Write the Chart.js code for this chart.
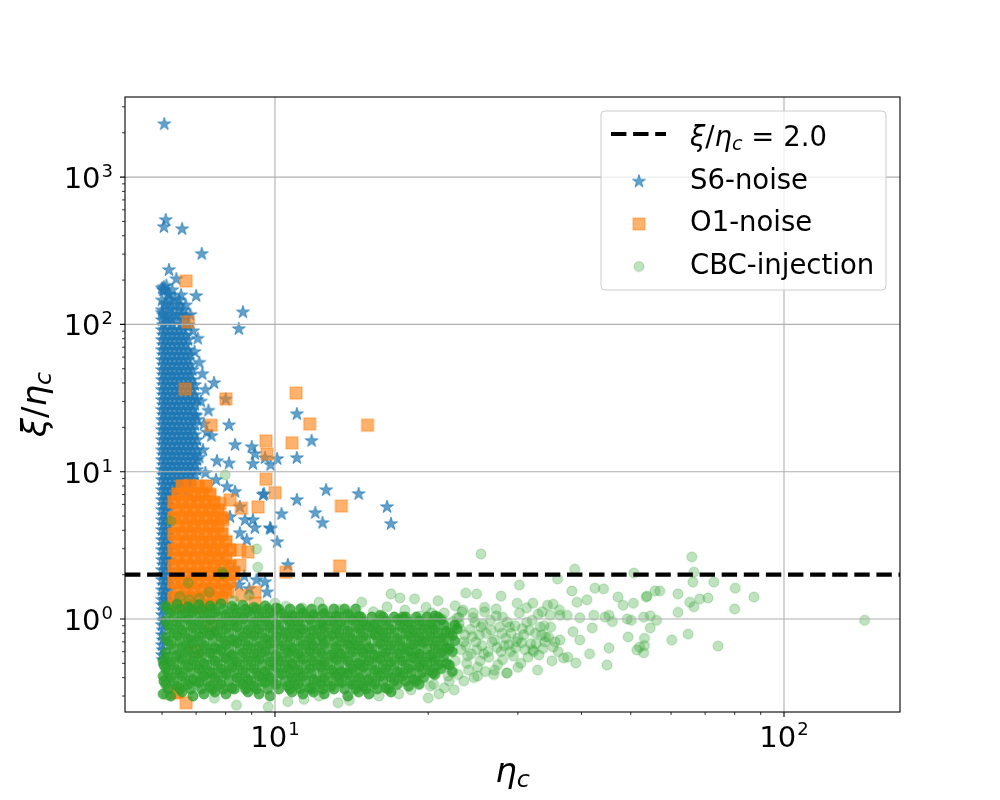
<!DOCTYPE html>
<html>
<head>
<meta charset="utf-8">
<title>xi/eta_c vs eta_c</title>
<script src="https://cdn.jsdelivr.net/npm/chart.js@4.4.1/dist/chart.umd.min.js"></script>
<style>
    body { margin: 0; background: #fff; }
    #chart { display: block; }
</style>
</head>
<body>
<canvas id="chart" width="1000" height="800"></canvas>
<script>
// Axis ranges and ticks (log-log)
const xLimits = [5.074, 169.0];
const yLimits = [0.2337, 3498];
const xMajorTicks = [10, 100];
const xMinorTicks = [6, 7, 8, 9, 20, 30, 40, 50, 60, 70, 80, 90];
const yMajorTicks = [1, 10, 100, 1000];
const yMinorTicks = [0.3, 0.4, 0.5, 0.6, 0.7, 0.8, 0.9, 2, 3, 4, 5, 6, 7, 8, 9,
    20, 30, 40, 50, 60, 70, 80, 90, 200, 300, 400, 500, 600, 700, 800, 900, 2000, 3000];
const threshold = 2.0;

// S6-noise: the packed column near eta_c ~ 6, one row per xi/eta_c level: [y, [x...]]
const s6ColumnRows = [
    [171, [6.03, 6.28]], [158, [6.16, 6.54]], [146, [6.00, 6.22, 6.48]], [135, [6.09, 6.35, 6.68]],
    [125, [6.00, 6.22, 6.48]], [116, [6.03, 6.28, 6.54, 6.82]], [107, [6.00, 6.16, 6.41, 6.61]],
    [99.1, [6.03, 6.28, 6.54, 6.75]],
    [91.6, [6.00, 6.09, 6.22, 6.35, 6.48, 6.61]],
    [84.7, [6.03, 6.16, 6.28, 6.41, 6.54, 6.68]],
    [78.4, [6.00, 6.09, 6.22, 6.35, 6.48, 6.61, 6.75]],
    [72.5, [6.03, 6.16, 6.28, 6.41, 6.54, 6.68]],
    [67.0, [6.00, 6.09, 6.22, 6.35, 6.48, 6.61, 6.75]],
    [62.0, [6.03, 6.16, 6.28, 6.41, 6.54, 6.68, 6.82]],
    [57.3, [6.00, 6.09, 6.22, 6.35, 6.48, 6.61, 6.75]],
    [53.0, [6.03, 6.16, 6.28, 6.41, 6.54, 6.68, 6.82]],
    [49.0, [6.00, 6.09, 6.22, 6.35, 6.48, 6.61, 6.75, 6.88]],
    [45.3, [6.03, 6.16, 6.28, 6.41, 6.54, 6.68, 6.82]],
    [42.0, [6.00, 6.09, 6.22, 6.35, 6.48, 6.61, 6.75, 6.88]],
    [38.8, [6.03, 6.16, 6.28, 6.41, 6.54, 6.68, 6.82, 6.96]],
    [35.9, [6.00, 6.09, 6.22, 6.35, 6.48, 6.61, 6.75, 6.88]],
    [33.2, [6.03, 6.16, 6.28, 6.41, 6.54, 6.68, 6.82, 6.96]],
    [30.7, [6.00, 6.09, 6.22, 6.35, 6.48, 6.61, 6.75, 6.88, 7.03]],
    [28.4, [6.03, 6.16, 6.28, 6.41, 6.54, 6.68, 6.82, 6.96]],
    [26.3, [6.00, 6.09, 6.22, 6.35, 6.48, 6.61, 6.75, 6.88]],
    [24.3, [6.03, 6.16, 6.28, 6.41, 6.54, 6.68, 6.82, 6.96]],
    [22.5, [6.00, 6.09, 6.22, 6.35, 6.48, 6.61, 6.75, 6.88, 7.03]],
    [20.7, [6.03, 6.16, 6.28, 6.41, 6.54, 6.68, 6.82, 6.96]],
    [19.2, [6.00, 6.09, 6.22, 6.35, 6.48, 6.61, 6.75, 6.88]],
    [17.8, [6.03, 6.16, 6.28, 6.41, 6.54, 6.68, 6.82, 6.96]],
    [16.4, [6.00, 6.09, 6.22, 6.35, 6.48, 6.61, 6.75, 6.88, 7.03]],
    [15.2, [6.03, 6.16, 6.28, 6.41, 6.54, 6.68, 6.82, 6.96]],
    [14.0, [6.00, 6.09, 6.22, 6.35, 6.48, 6.61, 6.75, 6.88, 7.03]],
    [13.0, [6.03, 6.16, 6.28, 6.41, 6.54, 6.68, 6.82, 6.96]],
    [12.0, [6.00, 6.09, 6.22, 6.35, 6.48, 6.61, 6.75, 6.88, 7.03]],
    [11.1, [6.03, 6.16, 6.28, 6.41, 6.54, 6.68, 6.82, 6.96]],
    [10.3, [6.00, 6.09, 6.22, 6.35, 6.48, 6.61, 6.75, 6.88, 7.03]],
    [9.5, [6.03, 6.16, 6.28, 6.41, 6.54, 6.68, 6.82, 6.96]],
    [8.8, [6.00, 6.09, 6.22, 6.35, 6.48, 6.61, 6.75, 6.88]],
    [8.12, [6.03, 6.16, 6.28, 6.41, 6.54, 6.68, 6.82]],
    [7.5, [6.00, 6.09, 6.22, 6.35, 6.48, 6.61, 6.75]],
    [6.95, [6.03, 6.16, 6.28]], [6.43, [6.00, 6.09, 6.22]], [5.94, [6.03, 6.16]], [5.50, [6.00, 6.09, 6.22]],
    [5.08, [6.03, 6.16]], [4.70, [6.00, 6.09, 6.22]], [4.35, [6.03, 6.16]], [4.02, [6.00, 6.09, 6.22]],
    [3.72, [6.03, 6.16]], [3.44, [6.00, 6.09, 6.22]], [3.18, [6.03, 6.16]], [2.94, [6.00, 6.09, 6.22]],
    [2.72, [6.03, 6.16]], [2.52, [6.00, 6.09, 6.22]], [2.33, [6.03, 6.16]], [2.15, [6.00, 6.09, 6.22]],
    [1.99, [6.03, 6.16]], [1.84, [6.00, 6.09, 6.22]], [1.70, [6.03, 6.16]], [1.57, [6.00, 6.09, 6.22]],
    [1.46, [6.03, 6.16]], [1.35, [6.00, 6.09, 6.22]], [1.245, [6.00, 6.09]], [1.15, [6.02]],
    [1.065, [6.00]], [0.98, [6.02]], [0.91, [6.00]], [0.84, [6.02]], [0.779, [6.00]], [0.72, [6.02]],
    [0.666, [6.00]], [0.616, [6.02]], [0.57, [6.00]], [0.527, [6.02]]
];

// S6-noise: loose triggers [eta_c, xi/eta_c]
const s6Noise = [
    [6.06,2290],[6.10,511],[6.05,458],[6.57,444],[7.18,301],[6.19,234],[6.40,203],[6.05,179],[6.12,183],[6.00,176],
    [7.00,156],[8.65,121],[6.70,114],[6.10,112],[6.25,108],[8.49,93],
    [6.05,170],[6.20,160],[6.35,150],[6.10,140],[6.50,135],[6.25,128],[6.00,120],[6.60,125],[6.40,115],[6.15,102],[6.75,98],
    [7.20,46],[7.59,40],[8.00,31],[8.12,20.7],[11.04,24.6],[11.8,16.2],[8.35,15.2],[9.00,14.7],[9.13,13.2],
    [10.1,12.2],[7.69,11.8],[8.12,11.4],[9.05,11.3],[9.80,11.1],[11.04,12.4],[9.52,7.06],[11.04,6.43],
    [12.0,5.25],[10.3,5.16],[9.80,4.08],[10.1,3.33],[8.73,4.70],[12.6,7.5],[14.6,7.06],[16.6,5.76],
    [12.4,4.49],[16.9,4.42],[10.6,2.33],
    [7.22,14.0],[7.66,8.8],[8.05,7.9],[8.35,7.3],[8.53,5.76],[8.16,4.93],[9.05,4.70],[9.13,4.15],
    [9.78,4.15],[9.47,6.95],[8.53,3.83],[8.80,3.44],[9.56,1.78],[9.65,1.52],[9.20,1.84],[9.56,12.4],
    [7.10,55],[7.30,36],[7.40,26],[7.25,21],[7.50,17.5],[7.00,24],[6.95,65],[7.05,80],[6.90,90],
    [7.15,30],[7.35,18.5],[7.10,12.5],[7.30,9.8],
    [8.30,2.2],[8.70,1.95],[8.50,1.7],[8.90,1.6]
];

// O1-noise: packed block
const o1Block = [
    [6.57,8.0],[6.81,8.05],[7.06,7.95],[7.32,8.0],
    [6.44,7.06],[6.69,7.1],[6.93,7.0],[7.19,7.08],[7.45,7.02],
    [6.33,6.23],[6.57,6.2],[6.81,6.26],[7.06,6.21],[7.32,6.25],[7.59,6.2],
    [6.44,5.5],[6.69,5.52],[6.93,5.47],[7.19,5.51],[7.45,5.49],[7.73,5.5],
    [6.33,4.85],[6.57,4.87],[6.81,4.83],[7.06,4.86],[7.32,4.84],[7.59,4.85],[7.87,4.88],
    [6.44,4.28],[6.69,4.3],[6.93,4.26],[7.19,4.29],[7.45,4.27],[7.73,4.28],
    [6.33,3.78],[6.57,3.8],[6.81,3.77],[7.06,3.79],[7.32,3.76],[7.59,3.78],[7.87,3.8],
    [6.44,3.33],[6.69,3.35],[6.93,3.32],[7.19,3.34],[7.45,3.31],[7.73,3.33],[8.01,3.35],
    [6.33,2.94],[6.57,2.95],[6.81,2.93],[7.06,2.96],[7.32,2.94],[7.59,2.92],[7.87,2.95],[8.16,2.94],
    [6.44,2.6],[6.69,2.61],[6.93,2.59],[7.19,2.6],[7.45,2.62],[7.73,2.59],[8.01,2.6],
    [6.33,2.29],[6.57,2.3],[6.81,2.28],[7.06,2.29],[7.32,2.31],[7.59,2.28],[7.87,2.3],[8.16,2.29],
    [6.44,2.02],[6.69,2.03],[6.93,2.01],[7.19,2.02],[7.45,2.04],[7.73,2.01],[8.01,2.02],[8.30,2.03],
    [6.33,1.78],[6.57,1.79],[6.81,1.77],[7.06,1.78],[7.32,1.8],[7.59,1.77],[7.87,1.78],[8.16,1.79],
    [6.44,1.57],[6.69,1.58],[6.93,1.56],[7.19,1.57],[7.45,1.59],[7.73,1.56],[8.01,1.57],
    [6.33,1.39],[6.57,1.4],[6.81,1.38],[7.06,1.39],[7.32,1.41],[7.59,1.38],[7.87,1.39],
    [6.44,1.23],[6.69,1.24],[6.93,1.22],[7.19,1.23],[7.45,1.24]
];

// O1-noise: loose triggers
const o1Noise = [
    [6.69,197],[6.75,104],[6.66,36.4],[8.01,31.2],[11.0,34.2],[7.49,20.7],[11.7,21.1],[15.2,20.7],
    [9.60,16.2],[10.8,15.7],[9.64,13.2],[9.60,8.9],[10.0,7.2],[9.26,5.76],[13.5,5.85],[13.4,2.29],[10.5,2.08],
    [7.80,6.1],[8.16,6.43],[8.59,5.65],[7.90,4.7],[8.53,2.94],[8.85,2.85],[8.53,2.32],[9.13,1.52],
    [9.13,1.28],[8.09,1.52],[8.60,1.45],
    [6.36,0.315],[6.69,0.27],[6.44,0.32],[7.00,0.6],[7.50,0.9]
];

// CBC-injection: the dense core of the cloud
const cbcDense = [
    [6.10,1.22],[6.42,1.26],[6.75,1.21],[7.09,1.25],[7.45,1.23],[7.83,1.27],[8.23,1.22],[8.65,1.24],[9.09,1.2],[9.56,1.23],[10.05,1.19],
    [6.24,1.10],[6.57,1.08],[6.90,1.12],[7.25,1.09],[7.62,1.11],[8.01,1.07],[8.42,1.10],[8.85,1.12],[9.30,1.08],[9.78,1.10],
    [10.3,1.09],[10.8,1.06],[11.35,1.10],[11.9,1.07],[12.5,1.09],[13.2,1.05],[13.9,1.08],[14.6,1.04],[16.1,1.06],[17.8,1.03],[20.6,1.05],
    [6.10,0.97],[6.42,0.95],[6.75,0.99],[7.09,0.96],[7.45,0.98],[7.83,0.94],[8.23,0.97],[8.65,1.0],[9.09,0.95],[9.56,0.97],
    [10.05,0.93],[10.6,0.98],[11.1,0.96],[11.7,0.99],[12.3,0.94],[12.9,0.97],[13.5,0.95],[14.2,0.98],[14.9,0.96],[15.7,0.93],
    [16.5,0.97],[17.4,0.99],[18.3,0.95],[19.2,0.97],[20.2,0.94],[21.2,0.98],
    [6.24,0.86],[6.57,0.84],[6.90,0.87],[7.25,0.85],[7.62,0.83],[8.01,0.86],[8.42,0.88],[8.85,0.84],[9.30,0.85],[9.78,0.87],
    [10.3,0.83],[10.8,0.86],[11.35,0.85],[11.9,0.84],[12.5,0.87],[13.2,0.85],[13.9,0.83],[14.6,0.86],[15.3,0.88],[16.1,0.84],
    [16.9,0.85],[17.8,0.87],[18.7,0.84],[19.6,0.86],[20.6,0.85],[21.7,0.83],[22.8,0.86],
    [6.10,0.75],[6.42,0.77],[6.75,0.74],[7.09,0.76],[7.45,0.78],[7.83,0.75],[8.23,0.73],[8.65,0.76],[9.09,0.77],[9.56,0.74],
    [10.05,0.76],[10.6,0.75],[11.1,0.78],[11.7,0.74],[12.3,0.76],[12.9,0.77],[13.5,0.75],[14.2,0.73],[14.9,0.76],[15.7,0.78],
    [16.5,0.75],[17.4,0.74],[18.3,0.77],[19.2,0.75],[20.2,0.76],[21.2,0.74],[22.3,0.77],
    [6.24,0.67],[6.57,0.65],[6.90,0.68],[7.25,0.66],[7.62,0.64],[8.01,0.67],[8.42,0.69],[8.85,0.66],[9.30,0.65],[9.78,0.68],
    [10.3,0.66],[10.8,0.64],[11.35,0.67],[11.9,0.66],[12.5,0.68],[13.2,0.65],[13.9,0.67],[14.6,0.66],[15.3,0.64],[16.1,0.68],
    [16.9,0.66],[17.8,0.65],[18.7,0.67],[19.6,0.69],[20.6,0.66],[21.7,0.64],
    [6.10,0.59],[6.42,0.57],[6.75,0.60],[7.09,0.58],[7.45,0.59],[7.83,0.61],[8.23,0.57],[8.65,0.59],[9.09,0.58],[9.56,0.60],
    [10.05,0.57],[10.6,0.59],[11.1,0.58],[11.7,0.60],[12.3,0.59],[12.9,0.57],[13.5,0.58],[14.2,0.60],[14.9,0.59],[15.7,0.57],
    [16.5,0.59],[17.4,0.58],[18.3,0.60],[19.2,0.58],[20.2,0.57],[21.2,0.59],[22.3,0.60],
    [6.03,0.52],[6.24,0.51],[6.57,0.53],[6.90,0.52],[7.25,0.50],[7.62,0.52],[8.01,0.54],[8.42,0.51],[8.85,0.52],[9.30,0.53],[9.78,0.51],
    [10.3,0.52],[10.8,0.50],[11.35,0.53],[11.9,0.52],[12.5,0.51],[13.2,0.53],[13.9,0.52],[14.6,0.50],[15.3,0.52],[16.1,0.53],
    [16.9,0.51],[17.8,0.52],[18.7,0.54],[19.6,0.51],[20.6,0.52],[21.7,0.50],
    [6.10,0.46],[6.42,0.45],[6.75,0.47],[7.09,0.46],[7.45,0.44],[7.83,0.46],[8.23,0.47],[8.65,0.45],[9.09,0.46],[9.56,0.44],
    [10.05,0.47],[10.6,0.46],[11.1,0.45],[11.7,0.46],[12.3,0.47],[12.9,0.45],[13.5,0.44],[14.2,0.46],[14.9,0.47],[15.7,0.45],
    [16.5,0.46],[17.4,0.44],[18.3,0.46],[19.2,0.47],[20.2,0.45],[21.2,0.46],[22.3,0.44],
    [6.03,0.41],[6.24,0.40],[6.57,0.41],[6.90,0.39],[7.25,0.41],[7.62,0.40],[8.01,0.42],[8.42,0.40],[8.85,0.39],[9.30,0.41],[9.78,0.40],
    [10.3,0.42],[10.8,0.40],[11.35,0.41],[11.9,0.39],[12.5,0.40],[13.2,0.41],[13.9,0.42],[14.6,0.40],[15.3,0.39],[16.1,0.41],
    [16.9,0.40],[17.8,0.41],[18.7,0.39],[19.6,0.40],[20.6,0.42],
    [6.10,0.36],[6.42,0.35],[6.75,0.36],[7.09,0.37],[7.45,0.35],[7.83,0.36],[8.23,0.34],[8.65,0.36],[9.09,0.35],[9.56,0.37],
    [10.05,0.36],[10.6,0.35],[11.1,0.36],[11.7,0.34],[12.3,0.36],[12.9,0.35],[13.5,0.37],[14.2,0.36],[14.9,0.35],[15.7,0.36],
    [16.5,0.34],[17.4,0.36],[18.3,0.35],[19.2,0.36],
    [6.03,0.31],[6.24,0.30],[6.57,0.32],[6.90,0.30],[7.25,0.31],[7.62,0.32],[8.01,0.31],[8.85,0.32],[9.30,0.31],[9.78,0.30],
    [10.8,0.32],[11.35,0.31],[11.9,0.32],[12.5,0.31],[13.9,0.30],[14.6,0.32],[15.3,0.31],[16.9,0.32]
];

// CBC-injection: further packed rows of the core, [y, [x...]]
const cbcCoreRows = [
    [1.169, [6.17, 6.50, 6.83, 7.17, 7.54, 7.92, 8.32, 8.75, 9.20, 9.67, 10.17, 10.7, 11.22, 11.8, 12.4, 13.05, 13.7, 14.4]],
    [1.032, [6.33, 6.66, 7.00, 7.35, 7.72, 8.12, 8.53, 8.97, 9.43, 9.91, 10.45, 10.95, 11.5, 12.1, 12.7, 13.35,
        14.05, 14.75, 15.5, 16.3, 17.15, 18.05, 18.95, 19.9, 20.9]],
    [0.911, [6.17, 6.50, 6.83, 7.17, 7.54, 7.92, 8.32, 8.75, 9.20, 9.67, 10.17, 10.7, 11.22, 11.8, 12.4, 13.05,
        13.7, 14.4, 15.1, 15.9, 16.7, 17.6, 18.5, 19.4, 20.4, 21.45, 22.55]],
    [0.803, [6.33, 6.66, 7.00, 7.35, 7.72, 8.12, 8.53, 8.97, 9.43, 9.91, 10.45, 10.95, 11.5, 12.1, 12.7, 13.35,
        14.05, 14.75, 15.5, 16.3, 17.15, 18.05, 18.95, 19.9, 20.9, 22.0]],
    [0.709, [6.17, 6.50, 6.83, 7.17, 7.54, 7.92, 8.32, 8.75, 9.20, 9.67, 10.17, 10.7, 11.22, 11.8, 12.4, 13.05,
        13.7, 14.4, 15.1, 15.9, 16.7, 17.6, 18.5, 19.4, 20.4, 21.45, 22.55]],
    [0.626, [6.33, 6.66, 7.00, 7.35, 7.72, 8.12, 8.53, 8.97, 9.43, 9.91, 10.45, 10.95, 11.5, 12.1, 12.7, 13.35,
        14.05, 14.75, 15.5, 16.3, 17.15, 18.05, 18.95, 19.9, 20.9, 22.0]],
    [0.552, [6.17, 6.50, 6.83, 7.17, 7.54, 7.92, 8.32, 8.75, 9.20, 9.67, 10.17, 10.7, 11.22, 11.8, 12.4, 13.05,
        13.7, 14.4, 15.1, 15.9, 16.7, 17.6, 18.5, 19.4, 20.4, 21.45]],
    [0.487, [6.05, 6.33, 6.66, 7.00, 7.35, 7.72, 8.12, 8.53, 8.97, 9.43, 9.91, 10.45, 10.95, 11.5, 12.1, 12.7, 13.35,
        14.05, 14.75, 15.5, 16.3, 17.15, 18.05, 18.95, 19.9, 20.9, 22.0]],
    [0.43, [6.17, 6.50, 6.83, 7.17, 7.54, 7.92, 8.32, 8.75, 9.20, 9.67, 10.17, 10.7, 11.22, 11.8, 12.4, 13.05,
        13.7, 14.4, 15.1, 15.9, 16.7, 17.6, 18.5, 19.4, 20.4]],
    [0.379, [6.05, 6.33, 6.66, 7.00, 7.35, 7.72, 8.12, 8.53, 8.97, 9.43, 9.91, 10.45, 10.95, 11.5, 12.1, 12.7, 13.35,
        14.05, 14.75, 15.5, 16.3, 17.15, 18.05, 18.95]],
    [0.335, [6.17, 6.50, 6.83, 7.17, 7.54, 7.92, 8.32, 8.75, 9.20, 9.67, 10.17, 10.7, 11.22, 11.8, 12.4, 13.05,
        13.7, 14.4, 15.1, 15.9, 16.7]]
];

// CBC-injection: thinner part of the cloud and stragglers
const cbcSparse = [
    [23.3,1.12],[23.0,0.93],[23.6,0.78],[23.2,0.62],[23.8,0.5],[22.9,0.42],
    [24.5,1.02],[24.2,0.85],[24.8,0.7],[24.3,0.58],[25.0,0.47],[24.6,0.4],
    [25.8,1.2],[25.6,0.92],[26.0,0.8],[25.5,0.66],[26.3,0.55],[25.9,0.44],
    [27.2,1.05],[27.6,0.88],[27.0,0.72],[27.8,0.6],[27.4,0.49],
    [28.6,0.95],[29.1,0.8],[28.8,0.67],[29.4,0.56],[28.5,0.43],
    [30.2,1.1],[30.6,0.86],[30.0,0.74],[31.0,0.62],[30.4,0.5],
    [32.0,0.98],[32.5,0.8],[31.8,0.68],[33.0,0.57],
    [33.8,0.9],[34.5,0.75],[33.6,0.63],[35.0,0.52],
    [23.0,1.02],[23.5,0.7],[23.9,0.56],[24.0,0.45],[24.7,0.95],[24.9,0.62],[25.3,0.52],[25.2,0.78],[26.5,0.98],
    [26.7,0.7],[26.2,0.6],[26.9,0.42],[27.9,0.8],[28.2,0.66],[28.0,0.53],[29.6,0.9],[29.8,0.7],[29.0,0.6],
    [30.8,0.78],[31.4,0.55],[31.2,0.95],[32.6,0.68],[33.4,0.78],[32.9,1.08],[34.8,0.88],[35.5,0.7],[36.0,0.6],
    [30.0,0.47],[27.0,0.45],[25.0,0.41],[23.5,0.38],[22.5,0.33],[21.0,0.31],
    [23.1,0.86],[23.7,0.66],[24.4,0.76],[25.4,0.88],[25.7,0.58],[26.6,0.84],[27.3,0.64],[28.4,0.74],[28.9,0.88],
    [29.7,0.64],[30.5,0.69],[31.6,0.84],[32.2,0.6],[33.9,0.7],
    [22.3,0.96],[22.8,1.02],[22.0,0.66],[22.6,0.52],[21.9,0.41],[20.2,0.35],
    [17.9,1.0],[19.3,1.05],[20.3,1.10],[21.3,1.0],[23.4,1.15],[24.5,1.10],[25.8,1.12],[28.0,1.03],[29.9,1.28],
    [31.2,1.19],[33.5,1.12],[36.3,1.06],
    [38.8,2.18],[50.7,2.05],[35.9,1.87],[38.3,1.55],[42.5,1.62],[44.2,1.60],[47.2,1.41],[53.6,1.41],[55.8,1.55],
    [32.1,1.28],[35.2,1.26],[39.7,1.02],[42.3,1.06],[45.3,1.06],[49.2,1.00],[53.0,1.03],[54.6,0.87],[49.4,0.755],
    [45.3,0.636],[41.5,0.58],[53.0,0.59],[44.9,0.487],[39.0,0.503],[36.9,0.544],[28.6,0.43],[32.8,0.45],
    [65.9,2.64],[66.5,2.08],[66.2,1.78],[72.8,1.78],[80.2,1.62],[87.3,1.41],[70.9,1.39],[68.3,1.37],[65.3,1.30],
    [66.5,1.21],[61.9,1.48],[61.9,1.11],[80.0,1.17],[53.8,1.43],[57.0,1.55],[54.6,1.05],[56.2,0.98],[60.2,0.72],
    [64.8,0.79],[74.2,0.655],[53.2,0.74],[53.2,0.66],[144,0.98],
    [34.3,1.24],[36.2,1.15],[37.5,1.06],[38.5,0.82],[36.3,0.72],[37.6,0.55],[39.7,0.72],[42.0,0.87],[44.5,1.03],
    [46.0,0.96],[48.3,1.24],[50.6,1.28],[50.1,0.98],[52.0,0.645],[51.4,0.616],[39.2,1.30],[41.0,1.35],[34.7,1.06],
    [33.2,0.88],[34.0,0.755],[35.2,0.645],[32.1,0.616],
    [6.78,1.35],[7.42,1.52],[6.75,1.76],[7.90,2.02],[9.20,2.99],[9.25,2.25],[7.87,2.08],[6.24,4.63],[7.98,9.5],
    [12.2,1.30],[10.0,1.28],[10.5,1.22],[11.3,1.19],[13.4,1.16],[14.8,1.30],[16.9,1.48],[17.6,1.39],[18.8,1.37],
    [20.9,1.33],[23.7,1.50],[24.9,1.48],[27.8,1.43],[15.6,1.12],[16.6,1.21],[22.6,1.23],[27.2,1.17],[19.8,1.20],
    [21.5,1.10],[18.0,1.15],[25.4,2.76],[30.2,1.70],[6.5,1.42],[7.1,1.38],[8.3,1.33],[8.9,1.45],
    [6.13,0.305],[9.70,0.253],[8.40,0.26],[20.0,0.291],[10.6,0.275],[11.4,0.285],[13.3,0.27],[14.0,0.28],
    [12.2,0.30],[7.60,0.29],[16.0,0.30],[17.5,0.31],[18.5,0.33],[21.5,0.34],[20.5,0.36],[22.0,0.38]
];

const toXY = arr => arr.map(([x, y]) => ({ x: x, y: y }));
const fromRows = rows => rows.flatMap(([y, xs]) => xs.map(x => [x, y]));
const s6Points = s6Noise.concat(fromRows(s6ColumnRows));
const cbcCore = cbcDense.concat(fromRows(cbcCoreRows));

// matplotlib-like marker images
function makeMarker(size, draw) {
    const c = document.createElement('canvas');
    c.width = size; c.height = size;
    draw(c.getContext('2d'), size / 2);
    return c;
}
const starMark = makeMarker(18, (g, m) => {
    g.beginPath();
    for (let i = 0; i < 10; i++) {
        const r = i % 2 ? 2.6 : 6.8;
        const a = -Math.PI / 2 + i * Math.PI / 5;
        g.lineTo(m + r * Math.cos(a), m + r * Math.sin(a));
    }
    g.closePath();
    g.fillStyle = 'rgba(31,119,180,0.7)';
    g.strokeStyle = 'rgba(31,119,180,0.7)';
    g.lineWidth = 1;
    g.fill(); g.stroke();
});
function squareMark(alpha) {
    return makeMarker(16, (g, m) => {
        g.fillStyle = 'rgba(255,127,14,' + alpha + ')';
        g.strokeStyle = 'rgba(255,127,14,' + alpha + ')';
        g.lineWidth = 1;
        g.fillRect(m - 6, m - 6, 12, 12);
        g.strokeRect(m - 6, m - 6, 12, 12);
    });
}
function circleMark(alpha) {
    return makeMarker(14, (g, m) => {
        g.beginPath();
        g.arc(m, m, 5, 0, Math.PI * 2);
        g.fillStyle = 'rgba(44,160,44,' + alpha + ')';
        g.strokeStyle = 'rgba(44,160,44,' + alpha + ')';
        g.lineWidth = 1;
        g.fill(); g.stroke();
    });
}
const squareLight = squareMark(0.6);
const squareDense = squareMark(0.85);
const circleLight = circleMark(0.3);
const circleDense = circleMark(0.78);

const FONT = '"DejaVu Sans", "Liberation Sans", sans-serif';

// draw a run of math-ish text pieces: [text, 'r' | 'i' | 'sub']
function drawRuns(ctx, runs, x, y, size, measureOnly) {
    let cx = x;
    runs.forEach(([t, s]) => {
        const fs = s === 'sub' ? size * 0.7 : size;
        ctx.font = (s === 'r' ? '' : 'italic ') + fs + 'px ' + FONT;
        if (!measureOnly) ctx.fillText(t, cx, y + (s === 'sub' ? size * 0.16 : 0));
        cx += ctx.measureText(t).width;
    });
    return cx - x;
}

function powLabel(ctx, exp, x, align) {
    ctx.font = '29px ' + FONT;
    const wBase = ctx.measureText('10').width;
    ctx.font = '18px ' + FONT;
    const wExp = ctx.measureText(exp).width;
    const total = wBase + 1 + wExp;
    const start = align === 'center' ? x - total / 2 : x - total;
    return { start, wBase };
}

const mplAxes = {
    id: 'mplAxes',
    beforeDatasetDraw(chart, args) {
        // grid sits above the scatter collections, below the threshold line
        if (args.index !== 0) return;
        const { ctx, chartArea: a, scales: { x, y } } = chart;
        ctx.save();
        ctx.strokeStyle = '#b0b0b0';
        ctx.lineWidth = 1.1;
        ctx.beginPath();
        xMajorTicks.forEach(v => {
            const px = x.getPixelForValue(v);
            ctx.moveTo(px, a.top); ctx.lineTo(px, a.bottom);
        });
        yMajorTicks.forEach(v => {
            const py = y.getPixelForValue(v);
            ctx.moveTo(a.left, py); ctx.lineTo(a.right, py);
        });
        ctx.stroke();
        ctx.restore();
    },
    afterDraw(chart) {
        const { ctx, chartArea: a, scales: { x, y } } = chart;
        ctx.save();

        // spines
        ctx.strokeStyle = '#000';
        ctx.lineWidth = 1.1;
        ctx.strokeRect(a.left, a.top, a.right - a.left, a.bottom - a.top);

        // tick marks
        ctx.beginPath();
        xMajorTicks.forEach(v => { const px = x.getPixelForValue(v); ctx.moveTo(px, a.bottom); ctx.lineTo(px, a.bottom + 5); });
        yMajorTicks.forEach(v => { const py = y.getPixelForValue(v); ctx.moveTo(a.left - 5, py); ctx.lineTo(a.left, py); });
        ctx.stroke();
        ctx.lineWidth = 0.8;
        ctx.beginPath();
        xMinorTicks.forEach(v => { const px = x.getPixelForValue(v); ctx.moveTo(px, a.bottom); ctx.lineTo(px, a.bottom + 3); });
        yMinorTicks.forEach(v => { const py = y.getPixelForValue(v); ctx.moveTo(a.left - 3, py); ctx.lineTo(a.left, py); });
        ctx.stroke();

        // tick labels 10^n
        ctx.fillStyle = '#000';
        ctx.textAlign = 'left';
        ctx.textBaseline = 'alphabetic';
        xMajorTicks.forEach(v => {
            const exp = String(Math.round(Math.log10(v)));
            const m = powLabel(ctx, exp, x.getPixelForValue(v), 'center');
            ctx.font = '29px ' + FONT;
            ctx.fillText('10', m.start, a.bottom + 35);
            ctx.font = '18px ' + FONT;
            ctx.fillText(exp, m.start + m.wBase + 1, a.bottom + 23);
        });
        yMajorTicks.forEach(v => {
            const exp = String(Math.round(Math.log10(v)));
            const py = y.getPixelForValue(v);
            const m = powLabel(ctx, exp, a.left - 12, 'right');
            ctx.font = '29px ' + FONT;
            ctx.fillText('10', m.start, py + 11);
            ctx.font = '18px ' + FONT;
            ctx.fillText(exp, m.start + m.wBase + 1, py);
        });

        // axis titles
        const xTitle = [['η', 'i'], ['c', 'sub']];
        const yTitle = [['ξ', 'i'], ['/', 'r'], ['η', 'i'], ['c', 'sub']];
        const cx = (a.left + a.right) / 2;
        const wx = drawRuns(ctx, xTitle, 0, 0, 34, true);
        drawRuns(ctx, xTitle, cx - wx / 2, 782, 34);
        ctx.save();
        ctx.translate(46, (a.top + a.bottom) / 2);
        ctx.rotate(-Math.PI / 2);
        const wy = drawRuns(ctx, yTitle, 0, 0, 34, true);
        drawRuns(ctx, yTitle, -wy / 2, 0, 34);
        ctx.restore();

        // legend
        const lx = 601, ly = 111, lw = 285, lh = 179, r = 4;
        ctx.beginPath();
        ctx.moveTo(lx + r, ly);
        ctx.arcTo(lx + lw, ly, lx + lw, ly + lh, r);
        ctx.arcTo(lx + lw, ly + lh, lx, ly + lh, r);
        ctx.arcTo(lx, ly + lh, lx, ly, r);
        ctx.arcTo(lx, ly, lx + lw, ly, r);
        ctx.closePath();
        ctx.fillStyle = 'rgba(255,255,255,0.8)';
        ctx.fill();
        ctx.strokeStyle = '#cccccc';
        ctx.lineWidth = 1;
        ctx.stroke();

        ctx.fillStyle = '#000';
        const rows = [146, 188.5, 231, 273.5];
        ctx.strokeStyle = '#000';
        ctx.lineWidth = 4.2;
        ctx.setLineDash([15.4, 6.7]);
        ctx.beginPath();
        ctx.moveTo(611, 134); ctx.lineTo(666, 134);
        ctx.stroke();
        ctx.setLineDash([]);
        drawRuns(ctx, [['ξ', 'i'], ['/', 'r'], ['η', 'i'], ['c', 'sub'], [' = 2.0', 'r']], 690, rows[0], 27.5);
        ctx.drawImage(starMark, 639 - 9, rows[1] - 7 - 9);
        ctx.drawImage(squareLight, 639 - 8, rows[2] - 7 - 8);
        ctx.drawImage(circleLight, 639 - 7, rows[3] - 7 - 7);
        ctx.font = '27.5px ' + FONT;
        ctx.fillText('S6-noise', 690, rows[1]);
        ctx.fillText('O1-noise', 690, rows[2]);
        ctx.fillText('CBC-injection', 690, rows[3]);

        ctx.restore();
    }
};

new Chart(document.getElementById('chart'), {
    type: 'scatter',
    data: {
        datasets: [
            {
                type: 'line',
                label: 'ξ/η_c = 2.0',
                data: [{ x: xLimits[0], y: threshold }, { x: xLimits[1], y: threshold }],
                borderColor: '#000',
                borderWidth: 4.2,
                borderDash: [15.4, 6.7],
                borderCapStyle: 'butt',
                pointRadius: 0,
                fill: false,
                clip: 0
            },
            { label: 'CBC-injection', data: toXY(cbcSparse), pointStyle: circleLight, pointRadius: 6, clip: 0 },
            { label: 'CBC-injection (core)', data: toXY(cbcCore), pointStyle: circleDense, pointRadius: 6, clip: 0 },
            { label: 'O1-noise', data: toXY(o1Noise), pointStyle: squareLight, pointRadius: 7, clip: 0 },
            { label: 'O1-noise (block)', data: toXY(o1Block), pointStyle: squareDense, pointRadius: 7, clip: 0 },
            { label: 'S6-noise', data: toXY(s6Points), pointStyle: starMark, pointRadius: 7, clip: 0 }
        ]
    },
    options: {
        responsive: false,
        animation: false,
        devicePixelRatio: 1,
        events: [],
        layout: { padding: { left: 125, top: 97, right: 100, bottom: 88 } },
        plugins: { legend: { display: false }, tooltip: { enabled: false } },
        scales: {
            x: { type: 'logarithmic', min: xLimits[0], max: xLimits[1], bounds: 'data', display: false },
            y: { type: 'logarithmic', min: yLimits[0], max: yLimits[1], bounds: 'data', display: false }
        }
    },
    plugins: [mplAxes]
});
</script>
</body>
</html>
